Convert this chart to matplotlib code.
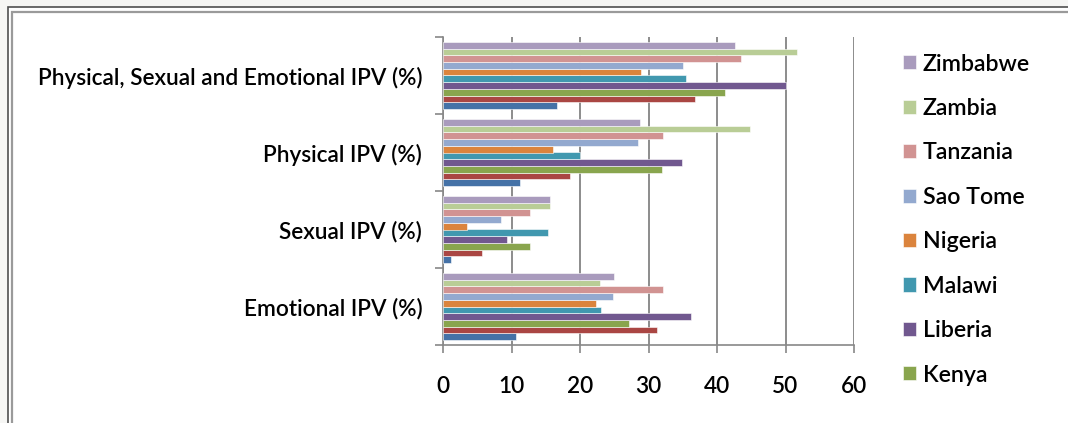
import matplotlib.pyplot as plt
from matplotlib.patches import Patch, Rectangle

# IPV prevalence by country (%), one list per country
categories = ['Emotional IPV (%)', 'Sexual IPV (%)', 'Physical IPV (%)',
              'Physical, Sexual and Emotional IPV (%)']
countries = ['Cameroon', 'Ghana', 'Kenya', 'Liberia', 'Malawi', 'Nigeria',
             'Sao Tome', 'Tanzania', 'Zambia', 'Zimbabwe']
values = [
    [10.7, 1.2, 11.2, 16.6],   # Cameroon
    [31.2, 5.7, 18.5, 36.8],   # Ghana
    [27.2, 12.7, 31.9, 41.1],  # Kenya
    [36.2, 9.3, 34.9, 50.1],   # Liberia
    [23.1, 15.3, 20.0, 35.5],  # Malawi
    [22.4, 3.5, 16.0, 28.9],   # Nigeria
    [24.8, 8.5, 28.5, 35.1],   # Sao Tome
    [32.1, 12.7, 32.1, 43.5],  # Tanzania
    [22.9, 15.6, 44.8, 51.7],  # Zambia
    [25.0, 15.6, 28.7, 42.6],  # Zimbabwe
]
colors = ['#4572A7', '#AA4643', '#89A54E', '#71588F', '#4198AF',
          '#DB843D', '#93A9CF', '#D19392', '#B9CD96', '#A99BBD']
xticks = [0, 10, 20, 30, 40, 50, 60]

plt.rcParams['font.family'] = ['Lato', 'DejaVu Sans']
W, H = 1068, 423
fig = plt.figure(figsize=(W / 100, H / 100), dpi=100)
fig.patch.set_facecolor('#F6F6F4')

# double frame around the chart
fig.patches.append(Rectangle((8 / W, -0.1), 1.2, 1 - 7.5 / H + 0.1,
                             transform=fig.transFigure, facecolor='white',
                             edgecolor='#505050', lw=1.2, zorder=0))
fig.patches.append(Rectangle((11.5 / W, -0.1), 1.2, 1 - 12 / H + 0.1,
                             transform=fig.transFigure, facecolor='none',
                             edgecolor='#9A9A9A', lw=1.6, zorder=0))

ax = fig.add_axes([443 / W, (H - 345) / H, 411 / W, 308 / H])
ax.set_facecolor('none')
ax.set_zorder(2)

n = len(countries)
bh = 0.087
for i in range(n):
    pos = [k + (i - (n - 1) / 2) * bh for k in range(len(categories))]
    ax.barh(pos, values[i], height=bh, color=colors[i],
            edgecolor='white', linewidth=0.4, zorder=3)

ax.set_xlim(0, 60)
ax.set_ylim(-0.5, len(categories) - 0.5)
ax.set_xticks(xticks)
ax.set_xticklabels([str(t) for t in xticks])
ax.set_yticks([k - 0.5 for k in range(len(categories) + 1)])
ax.set_yticklabels([])
ax.set_yticks(range(len(categories)), minor=True)
ax.set_yticklabels(categories, minor=True)
ax.tick_params(axis='y', which='major', direction='out', length=6,
               color='#888888', width=1.2)
ax.tick_params(axis='y', which='minor', length=0, pad=15, labelsize=16.3)
ax.tick_params(axis='x', direction='out', length=6, color='#888888',
               width=1.2, pad=16, labelsize=16.3)
for lab in ax.get_xticklabels() + ax.get_yticklabels(minor=True):
    lab.set_fontweight('semibold')

ax.grid(axis='x', color='#8C8C8C', lw=1.4, zorder=0)
for s in ['top', 'right']:
    ax.spines[s].set_visible(False)
for s in ['left', 'bottom']:
    ax.spines[s].set_color('#888888')
    ax.spines[s].set_linewidth(1.2)

# legend shows the eight countries from Zimbabwe down to Kenya
handles = [Patch(facecolor=colors[i], edgecolor='white', lw=0.4)
           for i in range(n - 1, 1, -1)]
labels = [countries[i] for i in range(n - 1, 1, -1)]
leg = fig.legend(handles, labels, loc='upper left',
                 bbox_to_anchor=(891 / W, 1 - 42 / H), frameon=False,
                 prop={'size': 16.7, 'weight': 'semibold'},
                 handlelength=0.56, handleheight=0.56, handletextpad=0.3,
                 labelspacing=1.01, borderpad=0)
leg.set_zorder(2)

fig.savefig('out.png', dpi=100, facecolor=fig.get_facecolor())
